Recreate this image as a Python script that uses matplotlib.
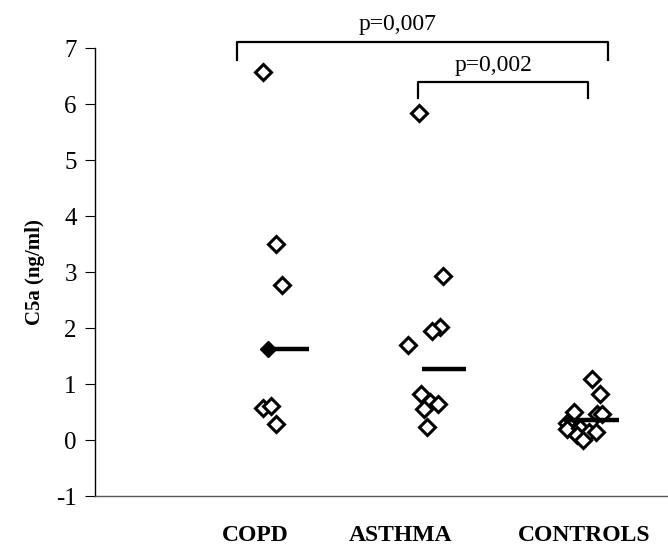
import matplotlib
matplotlib.use("Agg")
import matplotlib.pyplot as plt

plt.rcParams["font.family"] = ["Liberation Serif", "DejaVu Serif"]

groups = ["COPD", "ASTHMA", "CONTROLS"]

# values (ng/ml), with the small horizontal scatter
copd_vals = [6.57, 3.50, 2.77, 0.57, 0.61, 0.29]
copd_dx = [-0.04, 0.04, 0.08, -0.04, 0.01, 0.04]
copd_filled_val = [1.63]
copd_filled_dx = [-0.01]

asthma_vals = [5.84, 2.93, 2.02, 1.95, 1.70, 0.82, 0.68, 0.64, 0.55, 0.23]
asthma_dx = [-0.05, 0.10, 0.08, 0.03, -0.12, -0.04, 0.02, 0.07, -0.02, 0.00]

control_vals = [1.09, 0.82, 0.50, 0.47, 0.47, 0.30, 0.19, 0.21, 0.15, 0.15, 0.09, 0.00]
control_dx = [0.05, 0.10, -0.07, 0.08, 0.11, -0.11, -0.11, -0.03, 0.03, 0.07, -0.05, -0.01]

medians = [1.63, 1.27, 0.35]
median_x0 = [-0.01, -0.03, -0.13]
median_x1 = [0.25, 0.25, 0.22]

label_x = [-0.09, 0.83, 2.0]

fig = plt.figure(figsize=(6.68, 5.49), dpi=100)
ax = fig.add_axes([0.142, 0.0965, 0.858, 0.816])

marker_kw = dict(marker="D", ms=8, mfc="white", mec="black", mew=2.2, ls="none", zorder=3)

ax.plot([0 + d for d in copd_dx], copd_vals, **marker_kw)
ax.plot([0 + d for d in copd_filled_dx], copd_filled_val, marker="D", ms=8,
        mfc="black", mec="black", ls="none", zorder=3)
ax.plot([1 + d for d in asthma_dx], asthma_vals, **marker_kw)
ax.plot([2 + d for d in control_dx], control_vals, **marker_kw)

for i, m in enumerate(medians):
    ax.plot([i + median_x0[i], i + median_x1[i]], [m, m], color="black", lw=3.2,
            solid_capstyle="butt", zorder=4)

# significance brackets
def bracket(x0, x1, ytop, ybot, text, tx, ty):
    ax.plot([x0, x0, x1, x1], [ybot, ytop, ytop, ybot], color="black", lw=1.6,
            clip_on=False)
    ax.text(tx, ty, text, ha="center", va="center", fontsize=17, clip_on=False)

bracket(-0.21, 2.15, 7.11, 6.79, "p=0,007", 0.81, 7.42)
bracket(0.94, 2.025, 6.39, 6.11, "p=0,002", 1.42, 6.68)

ax.set_xlim(-1.11, 2.53)
ax.set_ylim(-1, 7)
ax.set_yticks(range(-1, 8))
ax.set_yticklabels([str(v) for v in range(-1, 8)], fontsize=18)
ax.tick_params(axis="y", direction="out", length=7, width=0.8, pad=6)
ax.set_xticks(label_x)
ax.set_xticklabels(groups, fontsize=17, fontweight="bold")
ax.tick_params(axis="x", length=0, pad=21)

ax.set_ylabel("C5a (ng/ml)", fontsize=15, fontweight="bold", labelpad=8)

ax.spines["top"].set_visible(False)
ax.spines["right"].set_visible(False)
ax.spines["left"].set_linewidth(1.0)
ax.spines["bottom"].set_linewidth(1.0)
ax.spines["bottom"].set_color("#555555")

fig.savefig("out.png", dpi=100)
